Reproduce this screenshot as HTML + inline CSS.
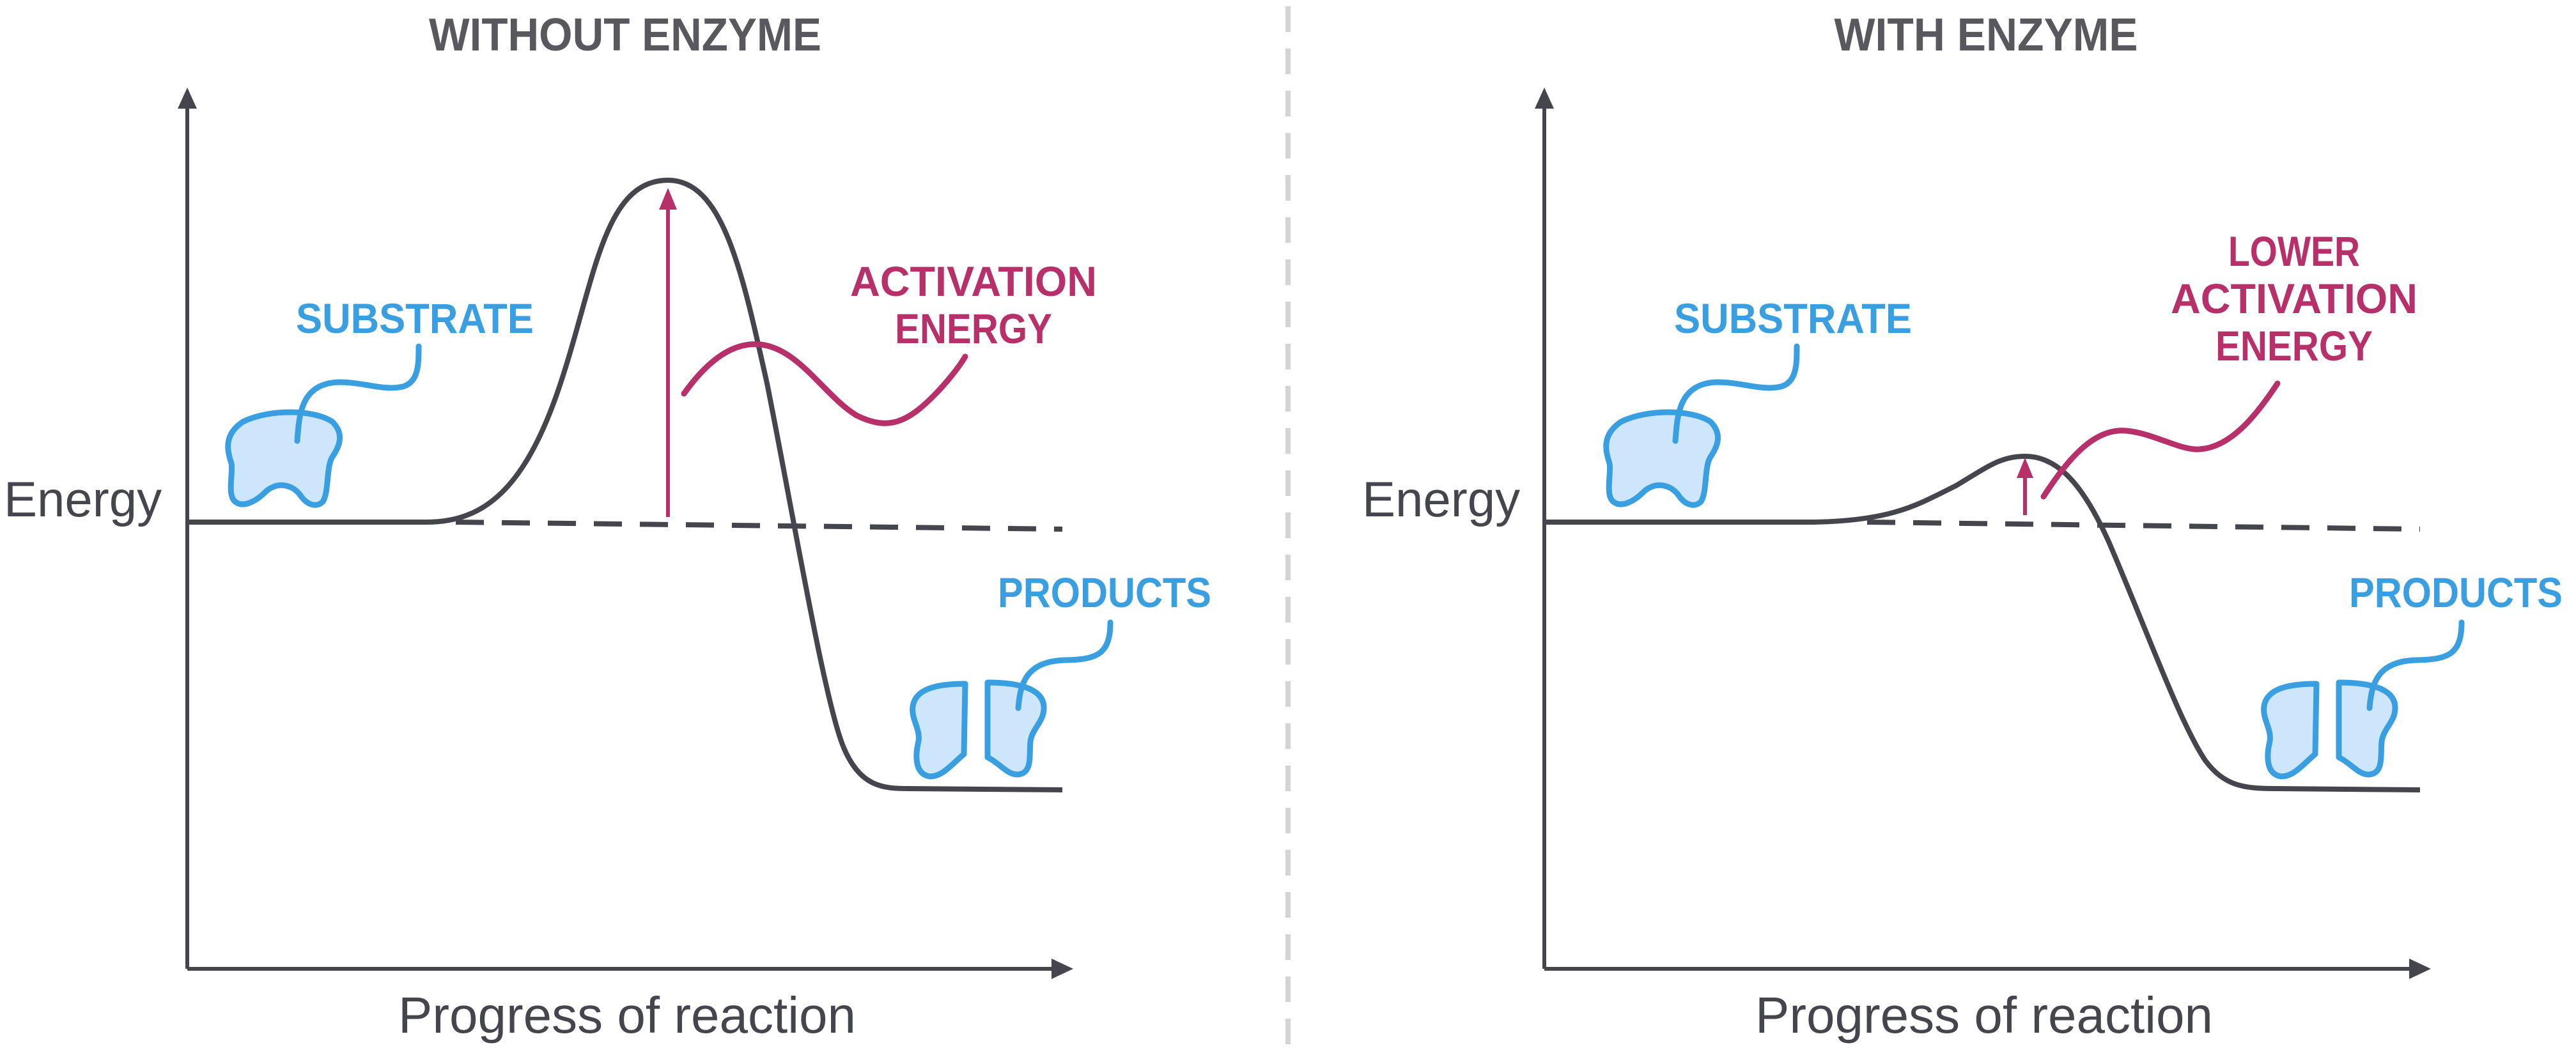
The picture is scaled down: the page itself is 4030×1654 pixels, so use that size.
<!DOCTYPE html>
<html><head><meta charset="utf-8"><style>
html,body{margin:0;padding:0;background:#fff;}
svg{display:block;}
.h{font-family:"Liberation Sans Narrow","Liberation Sans",sans-serif;font-weight:bold;}
.n{font-family:"Liberation Sans",sans-serif;fill:#45454d;}
</style></head><body>
<svg width="4030" height="1654" viewBox="0 0 4030 1654" xmlns="http://www.w3.org/2000/svg">
<defs>
<g id="sub">
<path d="M380,660 C420,640 490,640 520,660 C540,680 530,700 520,715 C510,730 515,770 505,785 C495,795 480,790 470,775 C455,755 430,755 415,770 C400,785 380,795 368,785 C355,775 365,740 362,725 C355,705 350,680 380,660 Z" fill="#cde6fb" stroke="#3a9fe0" stroke-width="9" stroke-linejoin="round"/>
<path d="M465,690 C468,650 470,600 530,598 C570,598 600,612 630,605 C655,598 655,570 655,542" fill="none" stroke="#3a9fe0" stroke-width="9" stroke-linecap="round"/>
<text x="463" y="521" class="h" font-size="66" fill="#3a9fe0" textLength="372" lengthAdjust="spacingAndGlyphs">SUBSTRATE</text>
</g>
<g id="prod">
<path d="M1510,1070 L1508,1180 C1490,1195 1475,1215 1455,1215 C1430,1212 1432,1180 1437,1160 C1440,1140 1425,1125 1428,1105 C1432,1080 1460,1070 1510,1070 Z" fill="#cde6fb" stroke="#3a9fe0" stroke-width="9" stroke-linejoin="round"/>
<path d="M1545,1068 C1600,1068 1635,1080 1633,1110 C1632,1130 1615,1140 1612,1160 C1610,1185 1615,1210 1592,1212 C1575,1212 1565,1195 1545,1185 Z" fill="#cde6fb" stroke="#3a9fe0" stroke-width="9" stroke-linejoin="round"/>
<path d="M1593,1108 C1596,1070 1605,1035 1665,1033 C1715,1032 1737,1025 1737,974" fill="none" stroke="#3a9fe0" stroke-width="9" stroke-linecap="round"/>
<text x="1561" y="950" class="h" font-size="66" fill="#3a9fe0" textLength="334" lengthAdjust="spacingAndGlyphs">PRODUCTS</text>
</g>
</defs>

<!-- divider -->
<line x1="2015" y1="10" x2="2015" y2="1654" stroke="#d4d4d4" stroke-width="8" stroke-dasharray="40,26"/>

<!-- LEFT PANEL -->
<text x="978" y="79" text-anchor="middle" class="h" font-size="72" fill="#58585e" textLength="614" lengthAdjust="spacingAndGlyphs">WITHOUT ENZYME</text>
<line x1="293" y1="165" x2="293" y2="1516" stroke="#45454d" stroke-width="6"/>
<polygon points="293,137 278,170 308,170" fill="#45454d"/>
<line x1="293" y1="1516" x2="1650" y2="1516" stroke="#45454d" stroke-width="6"/>
<polygon points="1679,1516 1645,1500 1645,1532" fill="#45454d"/>
<text x="6" y="808" class="n" font-size="78">Energy</text>
<text x="981" y="1616" text-anchor="middle" class="n" font-size="80">Progress of reaction</text>
<line x1="713" y1="817" x2="1662" y2="828" stroke="#45454d" stroke-width="8" stroke-dasharray="44,28"/>
<path d="M293,817 L668,817 C760,817 820,760 870,620 C930,450 940,282 1045,282 C1130,282 1160,420 1200,600 C1240,800 1290,1100 1320,1170 C1345,1230 1380,1234 1420,1234 L1662,1236" fill="none" stroke="#45454d" stroke-width="8"/>
<line x1="1045" y1="809" x2="1045" y2="320" stroke="#b8306a" stroke-width="6"/>
<polygon points="1045,294 1031,328 1059,328" fill="#b8306a"/>
<path d="M1070,616 C1110,560 1150,535 1189,539 C1250,545 1290,620 1340,650 C1390,675 1420,660 1460,620 C1480,600 1500,575 1510,558" fill="none" stroke="#b8306a" stroke-width="9" stroke-linecap="round"/>
<text x="1523" y="463" text-anchor="middle" class="h" font-size="66" fill="#b8306a" textLength="386" lengthAdjust="spacingAndGlyphs">ACTIVATION</text>
<text x="1523" y="537" text-anchor="middle" class="h" font-size="66" fill="#b8306a" textLength="246" lengthAdjust="spacingAndGlyphs">ENERGY</text>
<use href="#sub"/>
<use href="#prod"/>

<!-- RIGHT PANEL -->
<text x="3107" y="79" text-anchor="middle" class="h" font-size="72" fill="#58585e" textLength="475" lengthAdjust="spacingAndGlyphs">WITH ENZYME</text>
<line x1="2416" y1="165" x2="2416" y2="1516" stroke="#45454d" stroke-width="6"/>
<polygon points="2416,137 2401,170 2431,170" fill="#45454d"/>
<line x1="2416" y1="1516" x2="3775" y2="1516" stroke="#45454d" stroke-width="6"/>
<polygon points="3803,1516 3769,1500 3769,1532" fill="#45454d"/>
<text x="2131" y="808" class="n" font-size="78">Energy</text>
<text x="3104" y="1616" text-anchor="middle" class="n" font-size="80">Progress of reaction</text>
<line x1="2921" y1="817" x2="3786" y2="828" stroke="#45454d" stroke-width="8" stroke-dasharray="44,28"/>
<path d="M2416,817 L2837,817 C2960,815 3000,790 3060,760 C3110,730 3130,714 3168,714 C3220,714 3260,760 3300,850 C3360,990 3410,1130 3450,1190 C3480,1230 3510,1234 3560,1234 L3786,1236" fill="none" stroke="#45454d" stroke-width="8"/>
<line x1="3168" y1="806" x2="3168" y2="740" stroke="#b8306a" stroke-width="6"/>
<polygon points="3168,716 3155,748 3181,748" fill="#b8306a"/>
<path d="M3197,777 C3240,710 3280,670 3326,674 C3370,678 3410,705 3441,703 C3490,700 3530,650 3563,600" fill="none" stroke="#b8306a" stroke-width="9" stroke-linecap="round"/>
<text x="3589" y="416" text-anchor="middle" class="h" font-size="66" fill="#b8306a" textLength="206" lengthAdjust="spacingAndGlyphs">LOWER</text>
<text x="3589" y="490" text-anchor="middle" class="h" font-size="66" fill="#b8306a" textLength="386" lengthAdjust="spacingAndGlyphs">ACTIVATION</text>
<text x="3589" y="564" text-anchor="middle" class="h" font-size="66" fill="#b8306a" textLength="246" lengthAdjust="spacingAndGlyphs">ENERGY</text>
<use href="#sub" transform="translate(2156,0)"/>
<use href="#prod" transform="translate(2114,0)"/>
</svg>
</body></html>
